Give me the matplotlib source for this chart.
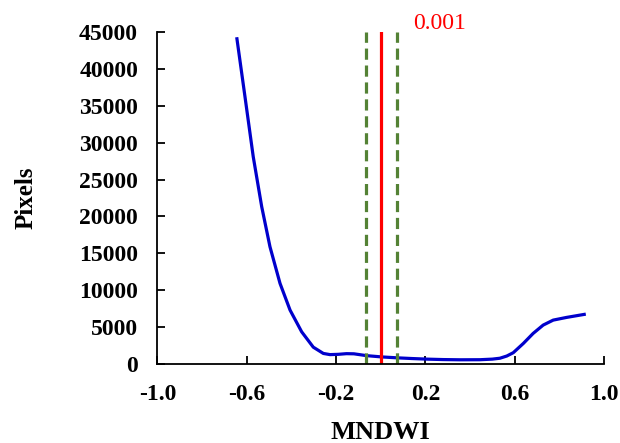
import matplotlib.pyplot as plt

# MNDWI histogram curve
mndwi = [-0.645, -0.608, -0.571, -0.533, -0.496, -0.451, -0.406, -0.354,
         -0.302, -0.257, -0.227, -0.190, -0.153, -0.120, -0.063, 0.004,
         0.071, 0.140, 0.206, 0.280, 0.355, 0.445, 0.500, 0.534,
         0.565, 0.594, 0.639, 0.683, 0.728, 0.773, 0.833, 0.919]
pixels = [44280, 36230, 28100, 21320, 15900, 10940, 7320, 4380,
          2300, 1450, 1290, 1330, 1420, 1400, 1150, 980,
          860, 760, 680, 620, 590, 600, 680, 800,
          1100, 1550, 2800, 4160, 5290, 5965, 6330, 6775]

threshold = 0.001
bounds = [-0.066, 0.073]

x_ticks = [-1.0, -0.6, -0.2, 0.2, 0.6, 1.0]
y_ticks = list(range(0, 45001, 5000))

plt.rcParams['font.family'] = ['Liberation Serif', 'DejaVu Serif']

fig = plt.figure(figsize=(6.2, 4.43), dpi=100)
ax = fig.add_axes([0.254, 0.178, 0.720, 0.750])

ax.plot(mndwi, pixels, color='#0000CC', lw=2.3, solid_capstyle='butt',
        solid_joinstyle='round')
for b in bounds:
    ax.axvline(b, color='#548235', lw=2.3, ls=(0, (3.5, 1.8)))
ax.axvline(threshold, color='#FF0000', lw=2.3)
ax.text(0.145, 46100, '0.001', color='#FF0000', fontsize=17,
        ha='left', va='center', clip_on=False)

ax.set_xlim(-1.0, 1.0)
ax.set_ylim(0, 45000)
ax.set_xticks(x_ticks)
ax.set_xticklabels(['%.1f' % v for v in x_ticks])
ax.set_yticks(y_ticks)
ax.set_yticklabels([str(v) for v in y_ticks])

for s in ['top', 'right']:
    ax.spines[s].set_visible(False)
for s in ['left', 'bottom']:
    ax.spines[s].set_linewidth(1.3)

ax.tick_params(direction='in', length=6, width=1.3, pad=14, labelsize=17)
for lab in ax.get_xticklabels() + ax.get_yticklabels():
    lab.set_fontweight('bold')

ax.set_xlabel('MNDWI', fontsize=19, fontweight='bold', labelpad=12)
ax.set_ylabel('Pixels', fontsize=18, fontweight='bold', labelpad=30)

fig.savefig('out.png', dpi=100)
